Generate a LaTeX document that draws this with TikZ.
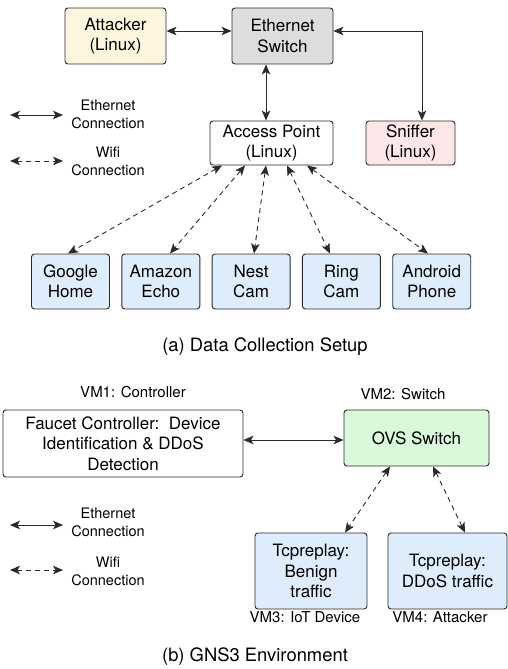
\documentclass[tikz,border=0pt]{standalone}
\usepackage{fontspec}
\setmainfont{TeX Gyre Heros}
\usetikzlibrary{arrows.meta, positioning}

\definecolor{attackfill}{HTML}{FDF5DE}
\definecolor{switchfill}{HTML}{DDDDDD}
\definecolor{snifffill}{HTML}{FDE6E8}
\definecolor{devfill}{HTML}{DEEDFB}
\definecolor{ovsfill}{HTML}{DAF8DA}
\definecolor{edgecol}{HTML}{2A2A2A}

\tikzset{
  box/.style={draw=edgecol, line width=0.9pt, rounded corners=3pt, align=center,
    inner sep=0pt, font=\fontsize{17}{20.5}\selectfont},
  dev/.style={box, fill=devfill, minimum width=78pt, minimum height=55pt},
  eth/.style={<->, line width=0.9pt, draw=edgecol},
  wifi/.style={<->, line width=0.9pt, draw=edgecol, dash pattern=on 5pt off 4pt},
  legend/.style={align=center, font=\fontsize{14.5}{18}\selectfont},
  vmlabel/.style={font=\fontsize{15}{18}\selectfont},
  caption/.style={font=\fontsize{18.4}{22}\selectfont}
}

\begin{document}
\begin{tikzpicture}[x=1pt, y=-1pt, >={Stealth[length=10pt,width=8.5pt,inset=2.5pt]}]
  \useasboundingbox (0,0) rectangle (508,669);

  % (a) data collection setup
  \node[box, fill=attackfill, minimum width=101pt, minimum height=56pt] (attacker) at (115.5,36) {Attacker\\(Linux)};
  \node[box, fill=switchfill, minimum width=101pt, minimum height=56pt] (switch) at (282.5,36) {Ethernet\\Switch};
  \node[box, fill=white, minimum width=123pt, minimum height=44pt] (ap) at (271.5,143) {Access Point\\(Linux)};
  \node[box, fill=snifffill, minimum width=89pt, minimum height=44pt] (sniffer) at (410.5,143) {Sniffer\\(Linux)};

  \node[dev] (google) at (70.5,281.5) {Google\\Home};
  \node[dev] (amazon) [right=11.4pt of google] {Amazon\\Echo};
  \node[dev] (nest) [right=11.4pt of amazon] {Nest\\Cam};
  \node[dev] (ring) [right=11.4pt of nest] {Ring\\Cam};
  \node[dev] (android) [right=11.4pt of ring] {Android\\Phone};

  \draw[eth] ([yshift=5pt]attacker.east) -- ([yshift=5pt]switch.west);
  \draw[eth] (switch.south -| 266,0) -- (ap.north -| 266,0);
  \draw[eth] ([yshift=5pt]switch.east) -| (sniffer.north -| 422,0);

  \draw[wifi] (ap.south -| 222,0) -- (google.north -| 68,0);
  \draw[wifi] (ap.south -| 245,0) -- (amazon.north -| 170,0);
  \draw[wifi] (ap.south -| 266,0) -- (nest.north -| 254,0);
  \draw[wifi] (ap.south -| 287,0) -- (ring.north -| 330,0);
  \draw[wifi] (ap.south -| 307,0) -- (android.north -| 428,0);

  % legend
  \coordinate (ethA) at (10,115);
  \coordinate (ethB) at (63,115);
  \coordinate (wifiA) at (10,161);
  \coordinate (wifiB) at (63,161);
  \draw[eth] (ethA) -- (ethB);
  \draw[wifi] (wifiA) -- (wifiB);
  \node[legend] (ethtxt) at (108,114) {Ethernet\\Connection};
  \node[legend] (wifitxt) at (108,161.5) {Wifi\\Connection};

  \node[caption] (capa) at (265,347) {(a) Data Collection Setup};

  % (b) GNS3 environment
  \node[box, fill=white, minimum width=240pt, minimum height=67pt] (faucet) at (123,443.5) {Faucet Controller:\ \ Device\\Identification \& DDoS\\Detection};
  \node[box, fill=ovsfill, minimum width=145pt, minimum height=56pt] (ovs) at (416.5,438) {OVS Switch};
  \node[box, fill=devfill, minimum width=112pt, minimum height=76pt] (benign) at (311,571) {Tcpreplay:\\Benign\\traffic};
  \node[box, fill=devfill, minimum width=119pt, minimum height=76pt] (ddos) at (447.5,571) {Tcpreplay:\\DDoS traffic};

  \node[vmlabel] (vm1) at (133,392) {VM1: Controller};
  \node[vmlabel] (vm2) at (403,394) {VM2: Switch};
  \node[vmlabel] (vm3) at (305,617) {VM3: IoT Device};
  \node[vmlabel] (vm4) at (440,617) {VM4: Attacker};

  \draw[eth] (faucet.east |- 0,440) -- (ovs.west |- 0,440);
  \draw[wifi] (ovs.south -| 390,0) -- (benign.north -| 345,0);
  \draw[wifi] (ovs.south -| 433,0) -- (ddos.north -| 465,0);

  % legend
  \coordinate (ethC) at (10,525);
  \coordinate (ethD) at (63,525);
  \coordinate (wifiC) at (10,570);
  \coordinate (wifiD) at (63,570);
  \draw[eth] (ethC) -- (ethD);
  \draw[wifi] (wifiC) -- (wifiD);
  \node[legend] (ethtxt2) at (108,522.5) {Ethernet\\Connection};
  \node[legend] (wifitxt2) at (108,571.5) {Wifi\\Connection};

  \node[caption] (capb) at (255,657) {(b) GNS3 Environment};
\end{tikzpicture}
\end{document}
